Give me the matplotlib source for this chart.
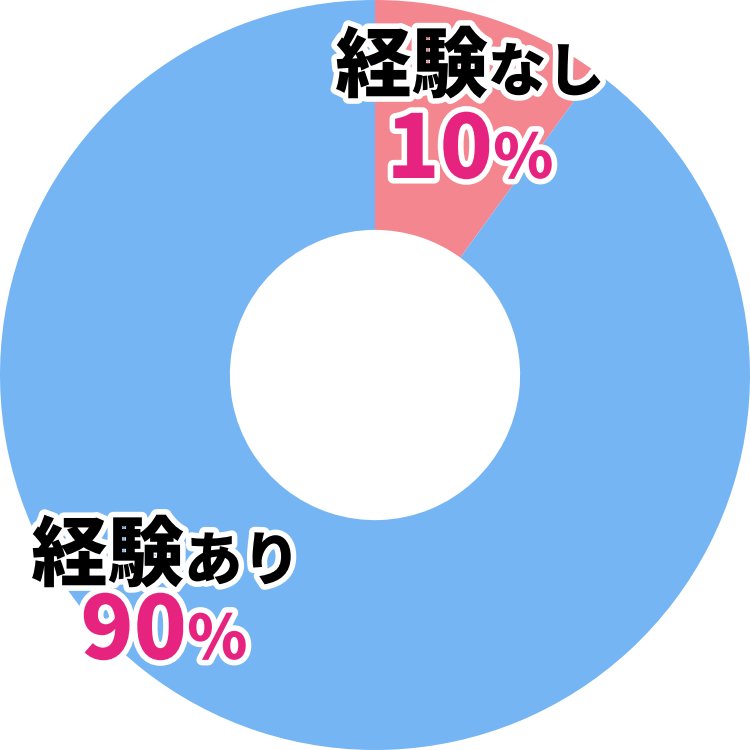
import matplotlib
matplotlib.use("Agg")
import matplotlib.pyplot as plt
import matplotlib.patheffects as pe

# データ
labels = ["経験なし", "経験あり"]
values = [10, 90]
colors = ["#F4868F", "#76B5F3"]

plt.rcParams['font.family'] = ['Noto Sans CJK JP', 'DejaVu Sans']

fig = plt.figure(figsize=(7.5, 7.5), dpi=100)
ax = fig.add_axes([0, 0, 1, 1])
ax.pie(values, colors=colors, startangle=90, counterclock=False,
       radius=1.0, wedgeprops=dict(width=0.613, edgecolor='none'))
ax.set_xlim(-1, 1)
ax.set_ylim(-1, 1)
ax.set_aspect('equal')
ax.axis('off')

stroke = [pe.withStroke(linewidth=8, foreground='white')]
fig.canvas.draw()
renderer = fig.canvas.get_renderer()


# 文字サイズの違う部分を一行に並べる（中央揃え、px座標）
def draw_line(pieces, cx, base_y):
    texts = []
    total = 0
    for s, size, color in pieces:
        t = fig.text(0, 0, s, fontsize=size, color=color, fontweight=900,
                     va='baseline', ha='left', path_effects=stroke,
                     transform=None)
        w = t.get_window_extent(renderer).width
        texts.append((t, w))
        total += w
    x = cx - total / 2
    for t, w in texts:
        t.set_position((x, base_y))
        x += w


draw_line([("経験", 55, "black"), ("なし", 42, "black")], 470, 659)
draw_line([("10", 63, "#E6247F"), ("%", 44, "#E6247F")], 470, 572)
draw_line([("経験", 55, "black"), ("あり", 42, "black")], 166, 170)
draw_line([("90", 63, "#E6247F"), ("%", 44, "#E6247F")], 164, 91)

fig.savefig("out.png", dpi=100)
